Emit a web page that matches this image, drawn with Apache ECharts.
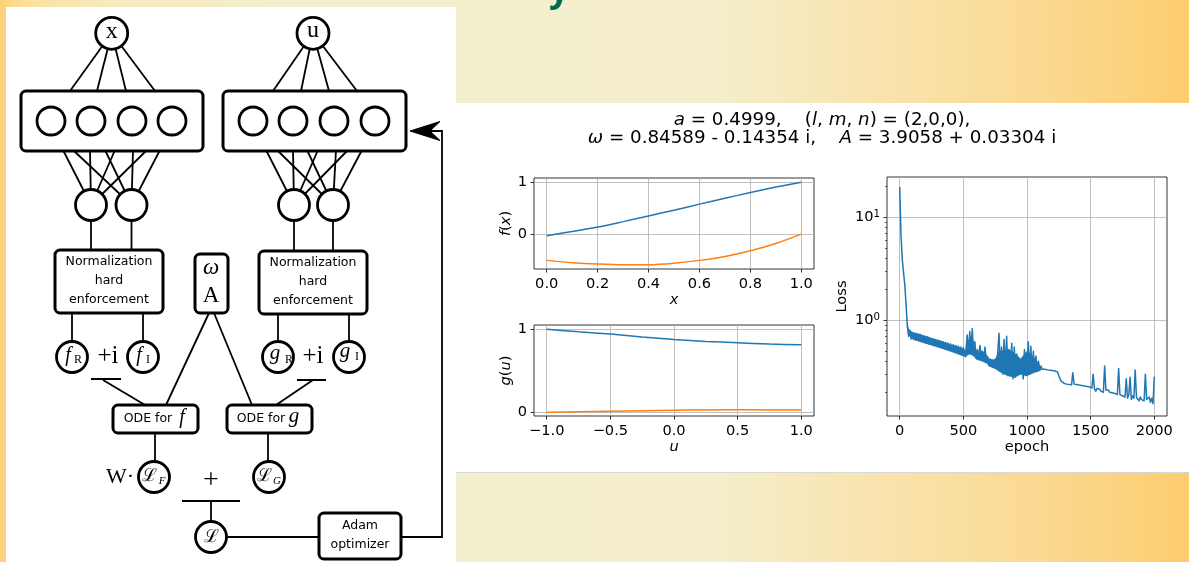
<!DOCTYPE html>
<html><head><meta charset="utf-8">
<script src="https://cdn.jsdelivr.net/npm/echarts@6/dist/echarts.min.js"></script>
<style>
html,body{margin:0;padding:0;width:1189px;height:562px;overflow:hidden;}
body{background:linear-gradient(to right,#fdd37a 0px,#fbe1a0 30px,#f6eabe 110px,#f4efcf 300px,#f4efcf 560px,#f4eecb 720px,#f9e3ad 880px,#fad992 1040px,#fdcd6f 1189px);}
.panel{position:absolute;background:#fff;}
#chart{position:absolute;left:0;top:0;width:1189px;height:562px;}
</style></head>
<body>
<div class="panel" style="left:6px;top:7px;width:450px;height:555px;"></div>
<div class="panel" style="left:456px;top:103px;width:733px;height:369px;border-bottom:1px solid #d8d8d8;"></div>
<div id="chart"></div>
<script>
// ---------- data ----------
const fX = [0, 0.1, 0.2, 0.3, 0.4, 0.5, 0.6, 0.7, 0.8, 0.9, 1.0];
const fReal = [-0.03, 0.05, 0.135, 0.24, 0.35, 0.46, 0.577, 0.69, 0.80, 0.905, 1.0];
const fImag = [-0.506, -0.55, -0.577, -0.592, -0.59, -0.56, -0.506, -0.43, -0.32, -0.18, 0.0];
const gU = [-1, -0.75, -0.5, -0.25, 0, 0.25, 0.5, 0.75, 1.0];
const gReal = [1.0, 0.968, 0.94, 0.905, 0.875, 0.852, 0.835, 0.82, 0.81];
const gImag = [-0.005, 0.002, 0.008, 0.014, 0.02, 0.023, 0.025, 0.024, 0.022];
const lossStep = 10; // epochs between stored loss samples
const lossValues = [
 19.5, 6.8, 3.9, 2.9, 2.2, 1.4, 0.88, 0.70, 0.79, 0.66,
 0.76, 0.65, 0.75, 0.64, 0.74, 0.63, 0.73, 0.62, 0.71, 0.61,
 0.70, 0.60, 0.69, 0.59, 0.67, 0.58, 0.66, 0.57, 0.65, 0.56,
 0.64, 0.55, 0.63, 0.54, 0.62, 0.53, 0.61, 0.52, 0.60, 0.51,
 0.59, 0.505, 0.58, 0.495, 0.57, 0.485, 0.56, 0.475, 0.55, 0.465,
 0.54, 0.45, 0.50, 0.72, 0.47, 0.78, 0.52, 0.83, 0.46, 0.62,
 0.44, 0.52, 0.42, 0.57, 0.43, 0.50, 0.41, 0.55, 0.40, 0.44,
 0.37, 0.42, 0.36, 0.41, 0.35, 0.42, 0.34, 0.48, 0.75, 0.33,
 0.55, 0.30, 0.65, 0.32, 0.70, 0.29, 0.52, 0.31, 0.60, 0.27,
 0.55, 0.28, 0.47, 0.30, 0.42, 0.33, 0.40, 0.27, 0.52, 0.29,
 0.36, 0.62, 0.30, 0.56, 0.31, 0.50, 0.32, 0.45, 0.32, 0.40,
 0.33, 0.36, 0.335, 0.34, 0.335, 0.335, 0.33, 0.33, 0.328, 0.326,
 0.325, 0.323, 0.322, 0.324, 0.315, 0.29, 0.27, 0.255, 0.25, 0.245,
 0.25, 0.24, 0.245, 0.238, 0.242, 0.236, 0.31, 0.24, 0.232, 0.238,
 0.23, 0.235, 0.228, 0.233, 0.226, 0.23, 0.224, 0.228, 0.222, 0.226,
 0.218, 0.22, 0.30, 0.215, 0.205, 0.218, 0.21, 0.215, 0.205, 0.21,
 0.20, 0.36, 0.21, 0.205, 0.21, 0.20, 0.205, 0.198, 0.202, 0.195,
 0.20, 0.19, 0.34, 0.19, 0.195, 0.185, 0.19, 0.18, 0.27, 0.175,
 0.19, 0.28, 0.17, 0.185, 0.175, 0.33, 0.18, 0.175, 0.165, 0.18,
 0.17, 0.175, 0.165, 0.30, 0.17, 0.165, 0.18, 0.16, 0.175, 0.155,
 0.28
];
// envelope of the dense epoch-to-epoch oscillation band
const lossBandEpoch = [60, 70, 100, 150, 200, 250, 300, 350, 400, 450, 500, 520, 530, 550, 570, 590, 600, 650, 690, 700, 750, 780, 800, 850, 900, 950, 1000, 1050, 1090, 1110];
const lossBandUpper = [0.9, 0.82, 0.76, 0.73, 0.70, 0.67, 0.64, 0.61, 0.58, 0.555, 0.53, 0.50, 0.62, 0.65, 0.66, 0.55, 0.50, 0.50, 0.45, 0.42, 0.41, 0.50, 0.50, 0.52, 0.48, 0.42, 0.50, 0.44, 0.38, 0.34];
const lossBandLower = [0.85, 0.72, 0.66, 0.63, 0.60, 0.575, 0.55, 0.525, 0.50, 0.475, 0.45, 0.44, 0.46, 0.47, 0.46, 0.44, 0.42, 0.40, 0.38, 0.36, 0.34, 0.32, 0.31, 0.29, 0.28, 0.30, 0.29, 0.31, 0.32, 0.33];
const fXTicks = [0, 0.2, 0.4, 0.6, 0.8, 1.0];
const fYTicks = [0, 1];
const gUTicks = [-1, -0.5, 0, 0.5, 1];
const gYTicks = [0, 1];
const epochTicks = [0, 500, 1000, 1500, 2000];
const lossMajorTicks = [1, 10];
const lossMinorTicks = [0.2, 0.3, 0.4, 0.5, 0.6, 0.7, 0.8, 0.9, 2, 3, 4, 5, 6, 7, 8, 9, 20];
const titleLine1 = '{i|a} = 0.4999,    ({i|l}, {i|m}, {i|n}) = (2,0,0),';
const titleLine2 = '{i|ω} = 0.84589 - 0.14354 i,    {i|A} = 3.9058 + 0.03304 i';

// ---------- helpers ----------
const FONT = 'DejaVu Sans';
const FS = 14.6;
const TFS = 18.3;
const BLUE = '#1f77b4', ORANGE = '#ff7f0e';
const minus = s => String(s).replace('-', '\u2212');
const fmt1 = v => minus(v.toFixed(1));
const fmt0 = v => minus(String(Math.round(v)));

function axis(grid, min, max, ticks, formatter, isX, extra) {
  return Object.assign({
    type: 'value', gridIndex: grid, min: min, max: max,
    axisLine: {show: false, onZero: false},
    axisTick: {show: true, customValues: ticks, length: 3.5, lineStyle: {color: '#000', width: 0.8}},
    axisLabel: {customValues: ticks, formatter: formatter, color: '#000', fontFamily: FONT, fontSize: FS, margin: isX ? 8 : 7},
    splitLine: {show: true, lineStyle: {color: '#b0b0b0', width: 0.8}},
    nameLocation: 'middle',
    nameTextStyle: {color: '#000', fontFamily: FONT, fontSize: FS,
      rich: {i: {fontStyle: 'italic', fontFamily: FONT, fontSize: FS, color: '#000'}}}
  }, extra || {});
}
function pairs(xs, ys) { return xs.map((x, i) => [x, ys[i]]); }
function lineSeries(xi, data, color) {
  return {type: 'line', xAxisIndex: xi, yAxisIndex: xi, data: data, showSymbol: false, symbol: 'none',
    smooth: 0.3, lineStyle: {color: color, width: 1.5}, itemStyle: {color: color}, z: 3, silent: true};
}

// ---------- diagram primitives ----------
const K = '#000';
function ln(x1, y1, x2, y2, w) { return {type: 'line', shape: {x1, y1, x2, y2}, style: {stroke: K, lineWidth: w || 1.8}, z: 10}; }
function circ(cx, cy, r) { return {type: 'circle', shape: {cx, cy, r}, style: {fill: '#fff', stroke: K, lineWidth: 2.8}, z: 11}; }
function box(x, y, w, h) { return {type: 'rect', shape: {x, y, width: w, height: h, r: 5}, style: {fill: '#fff', stroke: K, lineWidth: 3}, z: 11}; }
function txt(x, y, text, font, align) {
  return {type: 'text', x: x, y: y, z: 12,
    style: {text: text, font: font, fill: '#000', textFill: '#000', align: align || 'center', textAlign: align || 'center',
      verticalAlign: 'middle', textVerticalAlign: 'middle'}};
}
const SERIF = '"Liberation Serif", "DejaVu Serif", serif';
const SANS12 = '12.5px "DejaVu Sans"';
const CAL = '18px "DejaVu Serif"';

const g = [];
// input -> layer 1
[[70, 91], [97, 91], [126, 91], [155, 91]].forEach(p => g.push(ln(111.7, 33, p[0], p[1])));
[[273, 91], [301, 91], [329, 91], [357, 91]].forEach(p => g.push(ln(313, 33, p[0], p[1])));
// layer 1 -> hidden pair
const c1 = [91, 205], c2 = [131.5, 205], c3 = [294, 205], c4 = [333, 205];
[[63, c1], [73, c2], [90, c1], [105, c2], [115, c1], [133, c2], [147, c1], [160, c2]].forEach(p => g.push(ln(p[0], 150, p[1][0], p[1][1])));
[[266, c3], [277, c4], [293, c3], [307, c4], [318, c3], [336, c4], [348, c3], [362, c4]].forEach(p => g.push(ln(p[0], 150, p[1][0], p[1][1])));
// hidden -> normalization
[c1, c2, c3, c4].forEach(c => g.push(ln(c[0], c[1], c[0], 251)));
// normalization -> outputs
g.push(ln(72, 313, 72, 357), ln(143, 313, 143, 357), ln(278, 314, 278, 357), ln(349, 314, 349, 357));
// bars and links to ODE boxes
g.push(ln(91, 379, 121, 379, 2), ln(297, 380, 326, 380, 2));
g.push(ln(103, 380, 145, 405), ln(313, 380, 276, 405));
g.push(ln(209, 313, 166, 405), ln(214, 313, 252, 405));
// ODE -> losses
g.push(ln(155, 433, 155, 477), ln(268, 433, 268, 477));
g.push(ln(182, 501, 240, 501, 2), ln(211, 501, 211, 537));
g.push(ln(211, 537, 320, 537));
g.push({type: 'polyline', shape: {points: [[401, 537], [442, 537], [442, 131], [426, 131]]}, style: {stroke: K, lineWidth: 1.8, fill: null}, z: 10});
g.push({type: 'polygon', shape: {points: [[410, 131], [440, 121.5], [430, 131], [440, 140.5]]}, style: {fill: K, stroke: K, lineWidth: 1}, z: 12});

// boxes
g.push(box(21, 91, 182, 60), box(223, 91, 183, 60));
[51, 91, 132, 172].forEach(x => g.push(circ(x, 121, 14)));
[253, 293, 334, 375].forEach(x => g.push(circ(x, 121, 14)));
g.push(circ(111.7, 33.3, 16), circ(313, 33.3, 16));
[c1, c2, c3, c4].forEach(c => g.push(circ(c[0], c[1], 15.5)));
g.push(box(55, 250, 108, 63), box(259, 251, 108, 63), box(195, 254, 33, 59));
g.push(circ(72, 357, 15.5), circ(143, 357, 15.5), circ(278, 357, 15.5), circ(349, 357, 15.5));
g.push(box(113, 405, 85, 28), box(227, 405, 85, 28));
g.push(circ(154, 477, 15.5), circ(269, 477, 15.5), circ(211, 537, 15.5));
g.push(box(319, 513, 82, 46));

// diagram text
g.push(txt(111.7, 32, 'x', '24px ' + SERIF), txt(313, 31, 'u', '24px ' + SERIF));
['Normalization', 'hard', 'enforcement'].forEach((t, i) => {
  g.push(txt(109, 262 + i * 19, t, SANS12), txt(313, 263 + i * 19, t, SANS12));
});
g.push(txt(211, 268, 'ω', 'italic 23px ' + SERIF), txt(211, 296, 'A', '23px ' + SERIF));
g.push(txt(68, 356, 'f', 'italic 20px ' + SERIF), txt(78, 360, 'R', '12px ' + SERIF));
g.push(txt(139, 356, 'f', 'italic 20px ' + SERIF), txt(148, 360, 'I', '12px ' + SERIF));
g.push(txt(275, 353, 'g', 'italic 21px ' + SERIF), txt(289, 360, 'R', '12px ' + SERIF));
g.push(txt(345, 351, 'g', 'italic 21px ' + SERIF), txt(357, 357, 'I', '12px ' + SERIF));
g.push(txt(108, 356, '+i', '25px ' + SERIF), txt(313, 356, '+i', '25px ' + SERIF));
g.push(txt(148, 419, 'ODE for', SANS12), txt(182, 418, 'f', 'italic 20px ' + SERIF));
g.push(txt(261, 419, 'ODE for', SANS12), txt(294, 416, 'g', 'italic 21px ' + SERIF));
g.push(txt(134, 477, 'W·', '22px ' + SERIF, 'right'));
g.push(txt(149, 476, 'ℒ', CAL), txt(162, 481, 'F', 'italic 11px ' + SERIF));
g.push(txt(264, 476, 'ℒ', CAL), txt(277, 481, 'G', 'italic 11px ' + SERIF));
g.push(txt(211, 537, 'ℒ', CAL));
g.push(txt(211, 481, '+', '28px ' + SERIF));
g.push(txt(360, 526, 'Adam', SANS12), txt(360, 545, 'optimizer', SANS12));
// slide title fragment (descender visible at top)
g.push({type: 'text', x: 549, y: -9, z: 12, style: {text: 'y', font: 'bold 36px "Open Sans"', fill: '#006b4c', textFill: '#006b4c', align: 'left', textAlign: 'left', verticalAlign: 'middle', textVerticalAlign: 'middle'}});
// figure title
const titleRich = {i: {fontStyle: 'italic', fontFamily: FONT, fontSize: TFS, fill: '#000', textFill: '#000', color: '#000'}};
[titleLine1, titleLine2].forEach((t, i) => {
  g.push({type: 'text', x: 822, y: 120 + i * 18, z: 12,
    style: {text: t, font: TFS + 'px "DejaVu Sans"', fill: '#000', textFill: '#000', rich: titleRich,
      align: 'center', textAlign: 'center', verticalAlign: 'middle', textVerticalAlign: 'middle'}});
});

// ---------- chart ----------
const gridBase = {show: true, borderColor: '#000', borderWidth: 0.8, backgroundColor: 'rgba(0,0,0,0)', containLabel: false};
const chart = echarts.init(document.getElementById('chart'), null, {renderer: 'canvas'});
chart.setOption({
  animation: false,
  backgroundColor: 'rgba(0,0,0,0)',
  grid: [
    Object.assign({left: 534, top: 178, width: 280, height: 91}, gridBase),
    Object.assign({left: 534, top: 325, width: 280, height: 91}, gridBase),
    Object.assign({left: 887, top: 177, width: 280, height: 239}, gridBase)
  ],
  xAxis: [
    axis(0, -0.05, 1.05, fXTicks, fmt1, true, {name: '{i|x}', nameGap: 24}),
    axis(1, -1.1, 1.1, gUTicks, fmt1, true, {name: '{i|u}', nameGap: 24}),
    axis(2, -100, 2100, epochTicks, fmt0, true, {name: 'epoch', nameGap: 24})
  ],
  yAxis: [
    axis(0, -0.672, 1.08, fYTicks, fmt0, false, {name: '{i|f}({i|x})', nameGap: 19}),
    axis(1, -0.05, 1.05, gYTicks, fmt0, false, {name: '{i|g}({i|u})', nameGap: 19}),
    axis(2, 0.1177, 24.6, lossMajorTicks, v => '10{s|' + Math.round(Math.log10(v)) + '}', false, {
      type: 'log', logBase: 10, name: 'Loss', nameGap: 37,
      axisLabel: {customValues: lossMajorTicks, formatter: v => '10{s|' + Math.round(Math.log10(v)) + '}',
        color: '#000', fontFamily: FONT, fontSize: FS, margin: 7,
        rich: {s: {fontFamily: FONT, fontSize: 10.2, color: '#000', verticalAlign: 'top', lineHeight: 10}}}
    }),
    {type: 'log', logBase: 10, gridIndex: 2, min: 0.1177, max: 24.6, position: 'left', offset: 0,
      axisLine: {show: false, onZero: false}, axisLabel: {show: false}, splitLine: {show: false},
      axisTick: {show: true, customValues: lossMinorTicks, length: 2, lineStyle: {color: '#000', width: 0.6}}}
  ],
  series: [
    lineSeries(0, pairs(fX, fReal), BLUE),
    lineSeries(0, pairs(fX, fImag), ORANGE),
    lineSeries(1, pairs(gU, gReal), BLUE),
    lineSeries(1, pairs(gU, gImag), ORANGE),
    {type: 'custom', xAxisIndex: 2, yAxisIndex: 2, silent: true, z: 2, clip: true,
      data: [[lossBandEpoch[0], lossBandUpper[0]]],
      renderItem: function (params, api) {
        const pts = [];
        for (let i = 0; i < lossBandEpoch.length; i++) pts.push(api.coord([lossBandEpoch[i], lossBandUpper[i]]));
        for (let i = lossBandEpoch.length - 1; i >= 0; i--) pts.push(api.coord([lossBandEpoch[i], lossBandLower[i]]));
        return {type: 'polygon', shape: {points: pts}, style: {fill: BLUE, stroke: BLUE, lineWidth: 0.8}};
      }},
    {type: 'line', xAxisIndex: 2, yAxisIndex: 2, showSymbol: false, symbol: 'none', silent: true, z: 3,
      data: lossValues.map((v, i) => [i * lossStep, v]),
      lineStyle: {color: BLUE, width: 1.5, join: 'round', cap: 'round'}, itemStyle: {color: BLUE}}
  ],
  graphic: {elements: g}
});
</script>
</body></html>
